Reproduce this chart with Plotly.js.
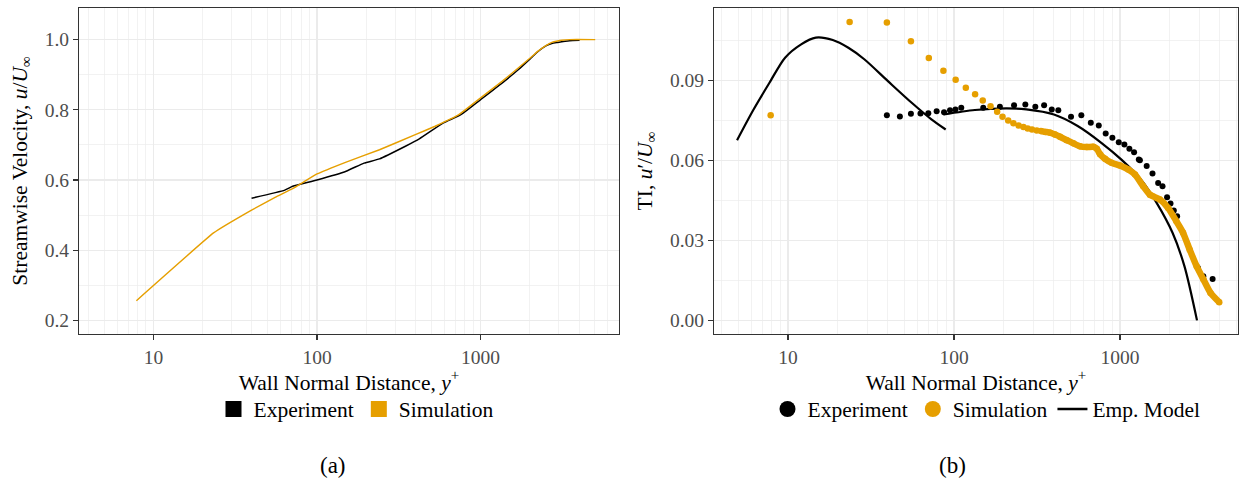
<!DOCTYPE html>
<html>
<head>
<meta charset="utf-8">
<script src="https://cdn.plot.ly/plotly-3.0.1.min.js"></script>
<style>html,body{margin:0;padding:0;background:#fff;}#chart{width:1239px;height:481px;}</style>
</head>
<body>
<div id="chart"></div>
<script>
// ---- Panel (a): streamwise velocity ----
var velExpX = [39.8, 63.5, 71, 100, 150.7, 193.8, 241, 347, 422, 589, 757, 1000, 1352, 1698, 2060, 2244, 2506, 2723, 2955, 3500, 4027];
var velExpY = [0.548, 0.571, 0.582, 0.600, 0.625, 0.648, 0.660, 0.696, 0.717, 0.762, 0.786, 0.829, 0.876, 0.914, 0.950, 0.966, 0.982, 0.989, 0.992, 0.997, 0.998];
var velSimX = [7.87, 23.3, 39.8, 55.8, 71, 100, 150.7, 241, 399, 527, 736, 1000, 1352, 1698, 2060, 2244, 2506, 2723, 2955, 3133, 3500, 5020];
var velSimY = [0.256, 0.449, 0.514, 0.551, 0.575, 0.617, 0.651, 0.686, 0.729, 0.753, 0.786, 0.834, 0.881, 0.919, 0.952, 0.967, 0.983, 0.992, 0.996, 0.998, 1.0, 1.0];

// ---- Panel (b): turbulence intensity ----
var tiExpX = [39.4, 47.2, 55, 62.8, 70, 78.6, 87.1, 94.6, 102, 110.6, 150, 189, 230, 269, 309, 349, 388, 425, 507, 585, 667, 745, 820, 900, 983, 1063, 1139, 1216, 1298, 1318, 1448, 1570, 1698, 1804, 1922, 2015, 2110, 2209, 2951, 3177, 3614];
var tiExpY = [0.0768, 0.0764, 0.0774, 0.0775, 0.0776, 0.0783, 0.0780, 0.0787, 0.0790, 0.0796, 0.0796, 0.0800, 0.0806, 0.0809, 0.0800, 0.0806, 0.0790, 0.0787, 0.0763, 0.0768, 0.0740, 0.0730, 0.0700, 0.0684, 0.0667, 0.0659, 0.0643, 0.0630, 0.0603, 0.0600, 0.0578, 0.0550, 0.0515, 0.0502, 0.0461, 0.0438, 0.0412, 0.0390, 0.0196, 0.0165, 0.0155];
var tiSimX = [7.86, 23.5, 39.4, 55, 70.5, 86.3, 102.3, 117.8, 134, 149, 166, 182, 196, 212, 228, 245, 262, 278, 295, 315, 334, 355, 379, 406, 435, 478, 524, 574, 631, 692, 725, 759, 813, 891, 1000, 1122, 1231, 1381, 1513, 1738, 1950, 2187, 2399, 2630, 2899, 3183, 3510, 3963];
var tiSimY = [0.0768, 0.1118, 0.1116, 0.1045, 0.0983, 0.0935, 0.0901, 0.0871, 0.0847, 0.0824, 0.0802, 0.0781, 0.0763, 0.0749, 0.0738, 0.0730, 0.0724, 0.0719, 0.0715, 0.0711, 0.0709, 0.0706, 0.0703, 0.0696, 0.0688, 0.0675, 0.0663, 0.0652, 0.0649, 0.0650, 0.0643, 0.0622, 0.0605, 0.0590, 0.0580, 0.0565, 0.0546, 0.0502, 0.0471, 0.0453, 0.0421, 0.0371, 0.0328, 0.0265, 0.0202, 0.0153, 0.0103, 0.0068];
var empX = [4.93, 6.2, 7.73, 9.6, 12.0, 14.7, 18.6, 23.1, 28.8, 40, 55.6, 73.1, 89.1, null, 86.3, 133.6, 207, 273, 400, 556, 772, 1016, 1336, 1663, 2073, 2445, 2911];
var empY = [0.0675, 0.079, 0.089, 0.0984, 0.1034, 0.1059, 0.105, 0.1021, 0.0978, 0.0896, 0.0815, 0.0753, 0.0715, null, 0.0771, 0.0788, 0.0794, 0.079, 0.0771, 0.0728, 0.0665, 0.0603, 0.0528, 0.044, 0.0328, 0.0203, 0.0];

var xTickVals = [10, 100, 1000];
var xTickText = ['10', '100', '1000'];
var velTickVals = [0.2, 0.4, 0.6, 0.8, 1.0];
var velTickText = ['0.2', '0.4', '0.6', '0.8', '1.0'];
var tiTickVals = [0.00, 0.03, 0.06, 0.09];
var tiTickText = ['0.00', '0.03', '0.06', '0.09'];

var BLACK = '#000000', ORANGE = '#E69F00';
var FONT = 'Liberation Serif, DejaVu Serif, serif';
var TICK_SIZE = 19.5, TITLE_SIZE = 21.5;

// dense simulation part drawn as a band of overlapping dots
var denseStart = tiSimX.findIndex(function (v) { return v >= 330; });
var bandX = tiSimX.slice(denseStart), bandY = tiSimY.slice(denseStart);

var traces = [
  {x: velExpX, y: velExpY, xaxis: 'x', yaxis: 'y', mode: 'lines', line: {color: BLACK, width: 1.5, shape: 'spline', smoothing: 0.5}, showlegend: false},
  {x: velSimX, y: velSimY, xaxis: 'x', yaxis: 'y', mode: 'lines', line: {color: ORANGE, width: 1.4, shape: 'spline', smoothing: 0.25}, showlegend: false},
  {x: [null], y: [null], xaxis: 'x', yaxis: 'y', mode: 'markers', name: 'Experiment', legend: 'legend', marker: {symbol: 'square', color: BLACK, size: 17}},
  {x: [null], y: [null], xaxis: 'x', yaxis: 'y', mode: 'markers', name: 'Simulation', legend: 'legend', marker: {symbol: 'square', color: ORANGE, size: 17}},

  {x: empX, y: empY, xaxis: 'x2', yaxis: 'y2', mode: 'lines', line: {color: BLACK, width: 2.2, shape: 'spline', smoothing: 0.8}, connectgaps: false, showlegend: false},
  {x: tiExpX, y: tiExpY, xaxis: 'x2', yaxis: 'y2', mode: 'markers', marker: {color: BLACK, size: 6}, showlegend: false},
  {x: bandX, y: bandY, xaxis: 'x2', yaxis: 'y2', mode: 'lines', line: {color: ORANGE, width: 6.5, shape: 'spline', smoothing: 0.6}, showlegend: false},
  {x: tiSimX, y: tiSimY, xaxis: 'x2', yaxis: 'y2', mode: 'markers', marker: {color: ORANGE, size: 6.5}, showlegend: false},
  {x: [null], y: [null], xaxis: 'x2', yaxis: 'y2', mode: 'markers', name: 'Experiment', legend: 'legend2', marker: {color: BLACK, size: 17}},
  {x: [null], y: [null], xaxis: 'x2', yaxis: 'y2', mode: 'markers', name: 'Simulation', legend: 'legend2', marker: {color: ORANGE, size: 17}},
  {x: [null], y: [null], xaxis: 'x2', yaxis: 'y2', mode: 'lines', name: 'Emp. Model', legend: 'legend2', line: {color: BLACK, width: 2.5}}
];

function xAxis(domain, range, anchor) {
  return {
    type: 'log', domain: domain, range: range, anchor: anchor,
    tickvals: xTickVals, ticktext: xTickText,
    ticks: 'outside', ticklen: 5, tickwidth: 1.1, tickcolor: '#333333',
    tickfont: {family: FONT, size: TICK_SIZE, color: '#4D4D4D'},
    showgrid: true, gridcolor: '#EBEBEB', gridwidth: 1.1,
    minor: {dtick: 'D1', showgrid: true, gridcolor: '#EDEDED', gridwidth: 0.7, ticks: ''},
    showline: true, mirror: true, linecolor: '#333333', linewidth: 1.1,
    zeroline: false,
    title: {text: 'Wall Normal Distance, <i>y</i><sup>+</sup>', font: {family: FONT, size: TITLE_SIZE, color: '#000'}, standoff: 2}
  };
}
function yAxis(domain, range, anchor, vals, text, minorD, title) {
  return {
    domain: domain, range: range, anchor: anchor,
    tickvals: vals, ticktext: text,
    ticks: 'outside', ticklen: 5, tickwidth: 1.1, tickcolor: '#333333',
    tickfont: {family: FONT, size: TICK_SIZE, color: '#4D4D4D'},
    showgrid: true, gridcolor: '#EBEBEB', gridwidth: 1.1,
    minor: {dtick: minorD, showgrid: true, gridcolor: '#EDEDED', gridwidth: 0.7, ticks: ''},
    showline: true, mirror: true, linecolor: '#333333', linewidth: 1.1,
    zeroline: false,
    title: {text: title, font: {family: FONT, size: TITLE_SIZE, color: '#000'}, standoff: 11}
  };
}

var yDom = [1 - 334 / 481, 1 - 8 / 481];
var layout = {
  width: 1239, height: 481,
  margin: {l: 0, r: 0, t: 0, b: 0},
  paper_bgcolor: '#ffffff', plot_bgcolor: '#ffffff',
  font: {family: FONT, color: '#000'},
  xaxis: xAxis([79 / 1239, 619 / 1239], [0.545, 3.846], 'y'),
  yaxis: yAxis(yDom, [0.161, 1.090], 'x', velTickVals, velTickText, 0.1, 'Streamwise Velocity, <i>u</i>/<i>U</i><sub>∞</sub>'),
  xaxis2: xAxis([714 / 1239, 1238 / 1239], [0.554, 3.711], 'y2'),
  yaxis2: yAxis(yDom, [-0.0051, 0.117], 'x2', tiTickVals, tiTickText, 0.015, 'TI, <i>u</i>′/<i>U</i><sub>∞</sub>'),
  legend: {orientation: 'h', x: 356 / 1239, xanchor: 'center', y: 1 - 409 / 481, yanchor: 'middle',
           font: {family: FONT, size: TITLE_SIZE, color: '#000'}, bgcolor: 'rgba(0,0,0,0)', itemwidth: 30},
  legend2: {orientation: 'h', x: 986.5 / 1239, xanchor: 'center', y: 1 - 409 / 481, yanchor: 'middle',
            font: {family: FONT, size: TITLE_SIZE, color: '#000'}, bgcolor: 'rgba(0,0,0,0)', itemwidth: 30},
  annotations: [
    {text: '(a)', xref: 'paper', yref: 'paper', x: 333 / 1239, y: 1 - 465 / 481, showarrow: false, xanchor: 'center', yanchor: 'middle', font: {family: FONT, size: 23, color: '#000'}},
    {text: '(b)', xref: 'paper', yref: 'paper', x: 952 / 1239, y: 1 - 465 / 481, showarrow: false, xanchor: 'center', yanchor: 'middle', font: {family: FONT, size: 23, color: '#000'}}
  ],
  showlegend: true
};

Plotly.newPlot('chart', traces, layout, {staticPlot: true, displayModeBar: false});
</script>
</body>
</html>
